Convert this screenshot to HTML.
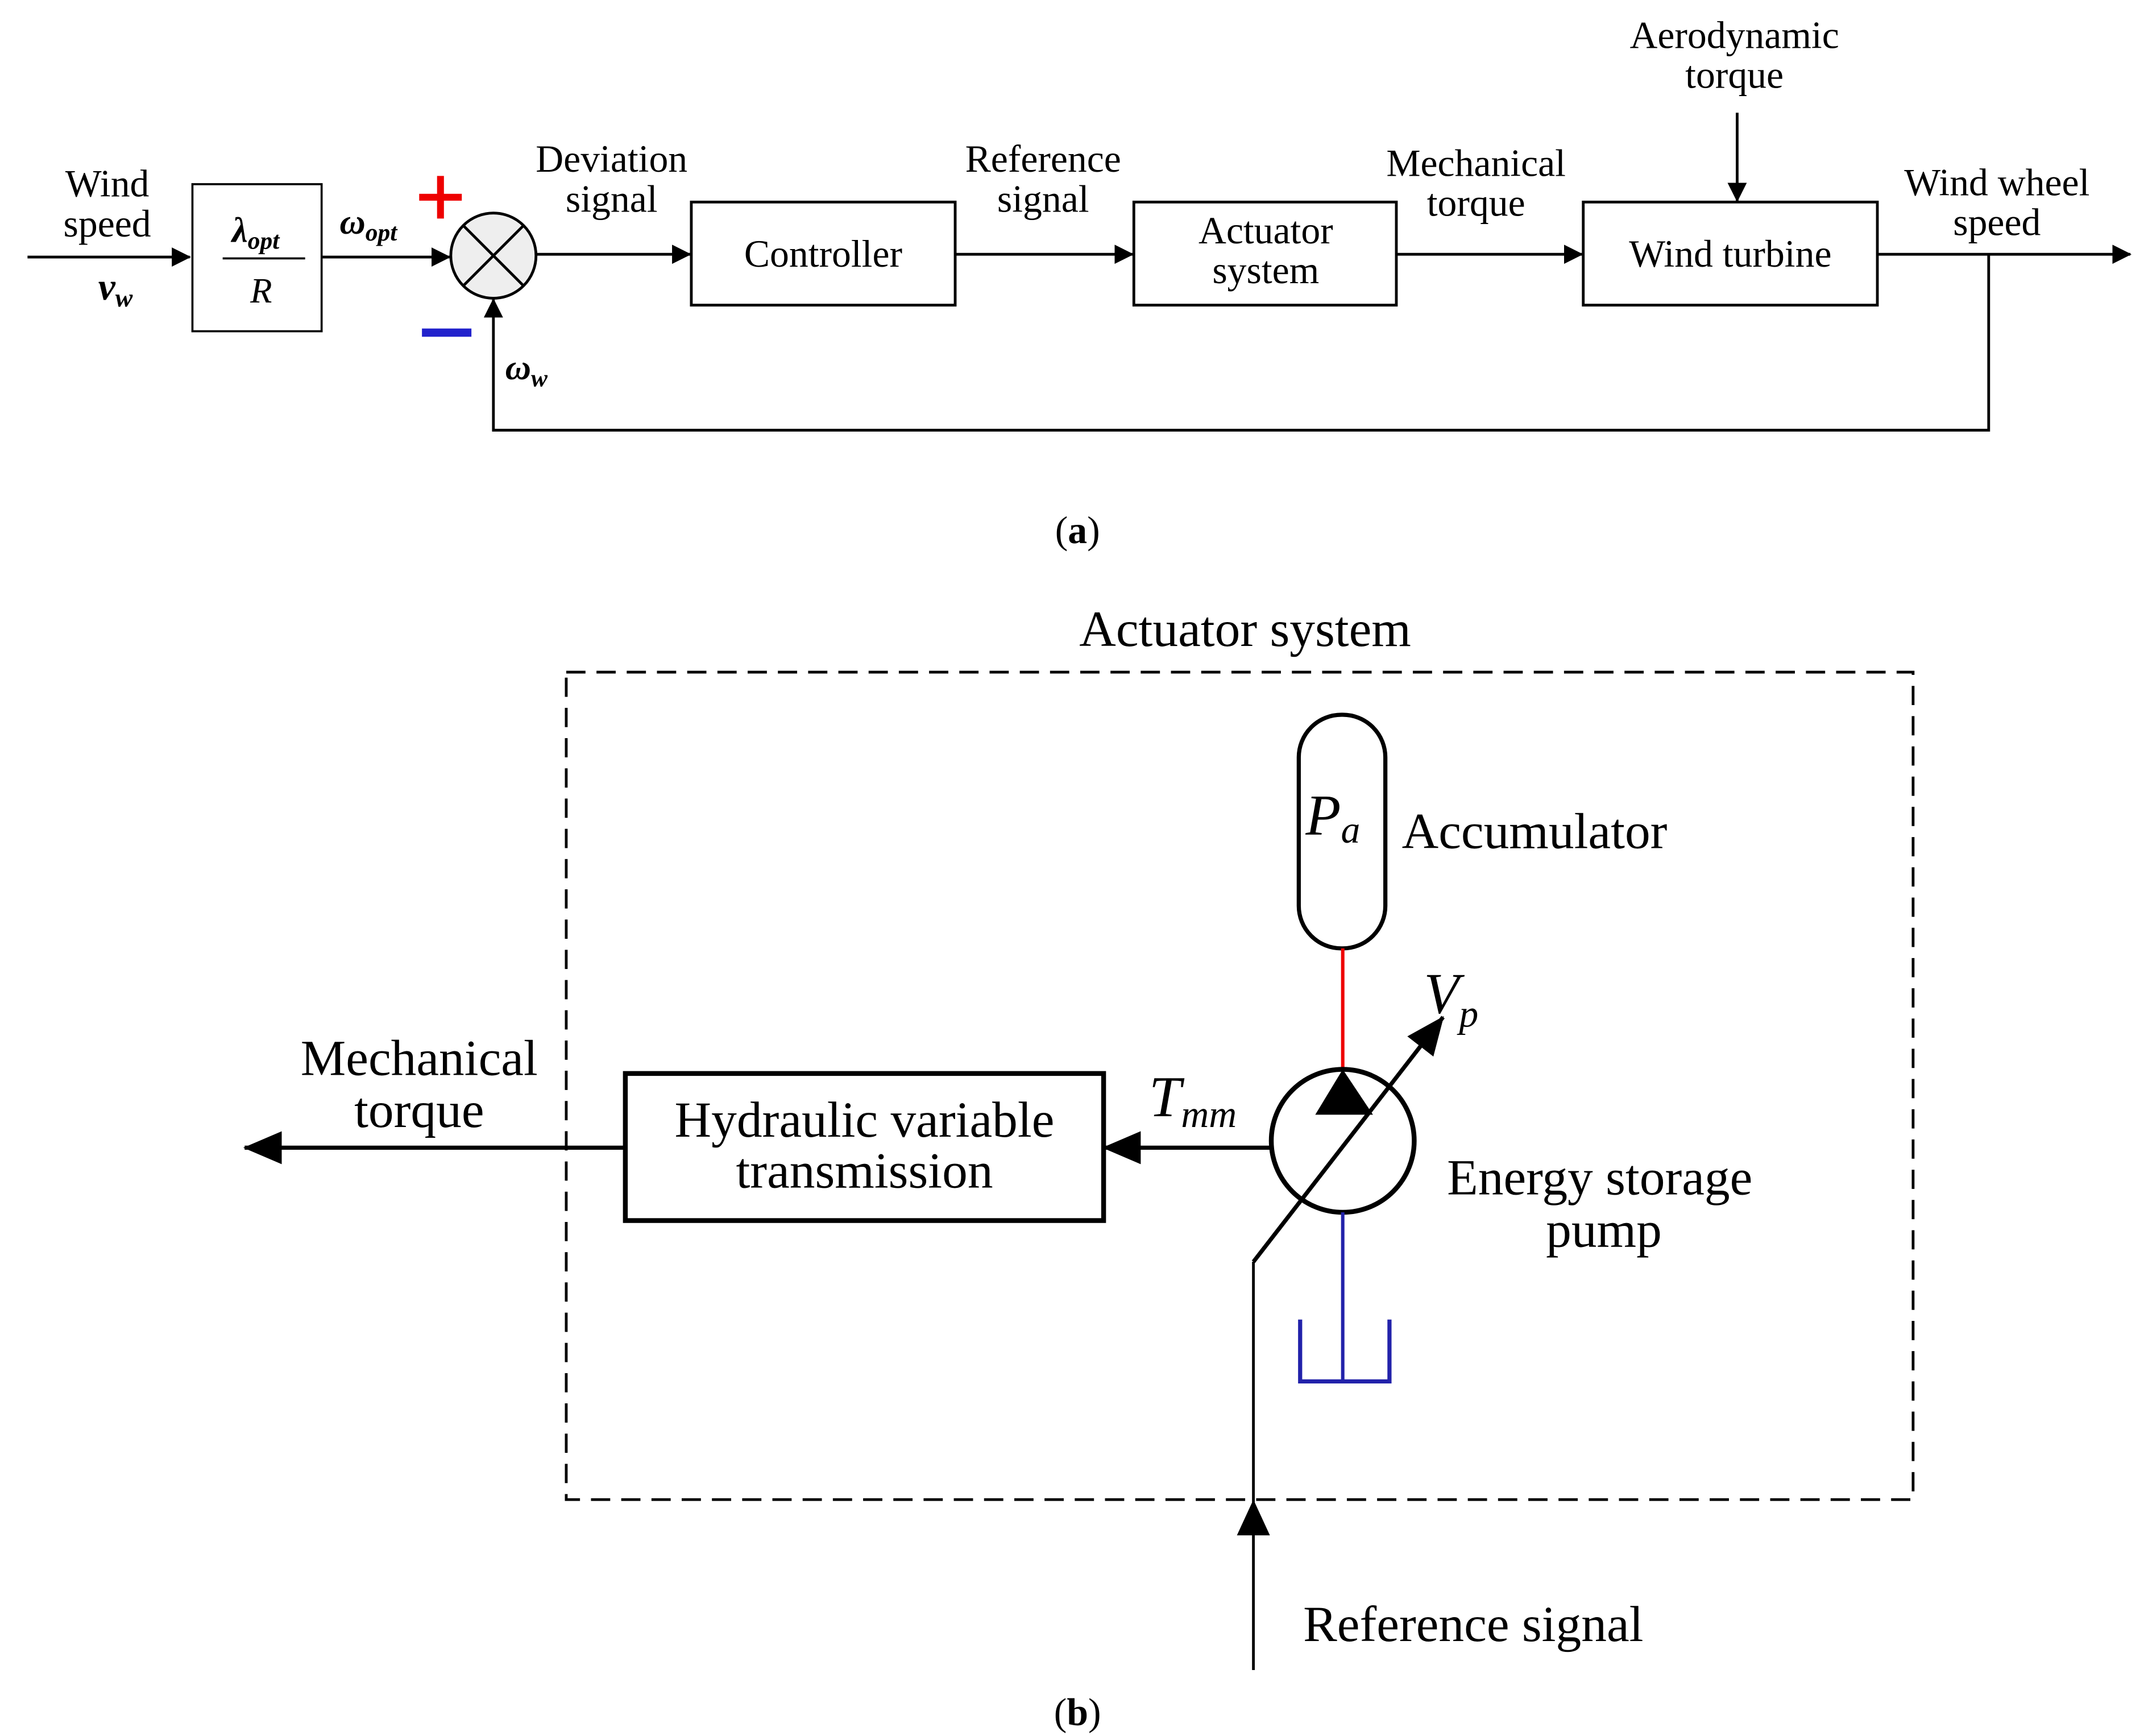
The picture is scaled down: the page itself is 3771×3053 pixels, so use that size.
<!DOCTYPE html>
<html><head><meta charset="utf-8"><style>
html,body{margin:0;padding:0;background:#fff;}
svg{display:block;}
text{font-family:"Liberation Serif",serif;fill:#000;}
</style></head><body>
<svg width="3771" height="3053" viewBox="0 0 1560 1263" xmlns="http://www.w3.org/2000/svg">
<defs>
<marker id="ah" markerWidth="10" markerHeight="10" refX="9" refY="5" orient="auto" markerUnits="userSpaceOnUse">
<path d="M0,0 L10,5 L0,10 z" fill="#000"/></marker>
<marker id="ah2" markerWidth="14" markerHeight="14" refX="13" refY="7" orient="auto" markerUnits="userSpaceOnUse">
<path d="M0,0 L14,7 L0,14 z" fill="#000"/></marker>
<marker id="ah3" markerWidth="28" markerHeight="28" refX="27" refY="14" orient="auto" markerUnits="userSpaceOnUse">
<path d="M0,2 L28,14 L0,26 z" fill="#000"/></marker>
</defs>
<g stroke="#000" stroke-width="2" fill="none">
<!-- (a) -->
<line x1="20" y1="187" x2="138" y2="187" marker-end="url(#ah2)"/>
<rect x="140" y="134" width="94" height="107" stroke-width="1.5"/>
<line x1="162" y1="188" x2="222" y2="188" stroke-width="1.5"/>
<line x1="234" y1="187" x2="327" y2="187" marker-end="url(#ah2)"/>
<circle cx="359" cy="186" r="31" fill="#eee"/>
<line x1="337" y1="164" x2="381" y2="208"/>
<line x1="381" y1="164" x2="337" y2="208"/>
<line x1="390" y1="185" x2="502" y2="185" marker-end="url(#ah2)"/>
<rect x="503" y="147" width="192" height="75"/>
<line x1="695" y1="185" x2="824" y2="185" marker-end="url(#ah2)"/>
<rect x="825" y="147" width="191" height="75"/>
<line x1="1016" y1="185" x2="1151" y2="185" marker-end="url(#ah2)"/>
<rect x="1152" y="147" width="214" height="75"/>
<line x1="1264" y1="82" x2="1264" y2="146" marker-end="url(#ah2)"/>
<line x1="1366" y1="185" x2="1550" y2="185" marker-end="url(#ah2)"/>
<polyline points="1447,185 1447,313 359,313 359,218" marker-end="url(#ah2)"/>
<!-- (b) -->
<rect x="412" y="489" width="980" height="602" stroke-dasharray="14,8"/>
<rect x="945" y="520" width="63" height="170" rx="31" ry="31" stroke-width="3"/>
<line x1="977" y1="690" x2="977" y2="778" stroke="#e00" stroke-width="2.5"/>
<circle cx="977" cy="830" r="52" stroke-width="3.5"/>
<line x1="912" y1="918" x2="1050" y2="740" stroke-width="3" marker-end="url(#ah3)"/>
<line x1="912" y1="918" x2="912" y2="1215"/>
<line x1="977" y1="882" x2="977" y2="1005" stroke="#22a" stroke-width="2.5"/>
<polyline points="946,960 946,1005 1011,1005 1011,960" stroke="#22a" stroke-width="3"/>
<line x1="925" y1="835" x2="803" y2="835" stroke-width="3" marker-end="url(#ah3)"/>
<rect x="455" y="781" width="348" height="107" stroke-width="3.5"/>
<line x1="455" y1="835" x2="178" y2="835" stroke-width="3" marker-end="url(#ah3)"/>
</g>
<path d="M912,1091 L900,1117 L924,1117 z" fill="#000"/>
<path d="M977,778 L957,811 L999,811 z" fill="#000"/>
<!-- red plus, blue minus -->
<rect x="305" y="141" width="31" height="5" fill="#e00"/>
<rect x="318" y="128" width="5" height="31" fill="#e00"/>
<rect x="307" y="239" width="36" height="6" fill="#22c"/>
<g font-size="28" text-anchor="middle">
<text x="78" y="143">Wind</text>
<text x="78" y="172">speed</text>
<text x="84" y="218" font-weight="bold" font-style="italic">v<tspan font-size="19" dy="5">w</tspan></text>
<text x="186" y="176" font-weight="bold" font-style="italic" font-size="26">λ<tspan font-size="18" dy="5">opt</tspan></text>
<text x="190" y="220" font-style="italic" font-size="26">R</text>
<text x="268" y="170" font-weight="bold" font-style="italic" font-size="26">ω<tspan font-size="18" dy="5">opt</tspan></text>
<text x="383" y="276" font-weight="bold" font-style="italic" font-size="26">ω<tspan font-size="18" dy="5">w</tspan></text>
<text x="445" y="125">Deviation</text>
<text x="445" y="154">signal</text>
<text x="599" y="194">Controller</text>
<text x="759" y="125">Reference</text>
<text x="759" y="154">signal</text>
<text x="921" y="177">Actuator</text>
<text x="921" y="206">system</text>
<text x="1074" y="128">Mechanical</text>
<text x="1074" y="157">torque</text>
<text x="1259" y="194">Wind turbine</text>
<text x="1262" y="35">Aerodynamic</text>
<text x="1262" y="64">torque</text>
<text x="1453" y="142">Wind wheel</text>
<text x="1453" y="171">speed</text>
<text x="784" y="395">(<tspan font-weight="bold">a</tspan>)</text>
<text x="784" y="1255">(<tspan font-weight="bold">b</tspan>)</text>
</g>
<g font-size="37">
<text x="906" y="470" text-anchor="middle">Actuator system</text>
<text x="950" y="607" font-style="italic" font-size="42">P<tspan font-size="28" dy="6">a</tspan></text>
<text x="1020" y="617">Accumulator</text>
<text x="1036" y="737" font-style="italic" font-size="42">V<tspan font-size="28" dy="10">p</tspan></text>
<text x="836" y="812" font-style="italic" font-size="42">T<tspan font-size="28" dy="8">mm</tspan></text>
<text x="1164" y="869" text-anchor="middle">Energy storage</text>
<text x="1167" y="907" text-anchor="middle">pump</text>
<text x="629" y="827" text-anchor="middle">Hydraulic variable</text>
<text x="629" y="864" text-anchor="middle">transmission</text>
<text x="305" y="782" text-anchor="middle">Mechanical</text>
<text x="305" y="820" text-anchor="middle">torque</text>
<text x="1072" y="1194" text-anchor="middle">Reference signal</text>
</g>
</svg>
</body></html>
